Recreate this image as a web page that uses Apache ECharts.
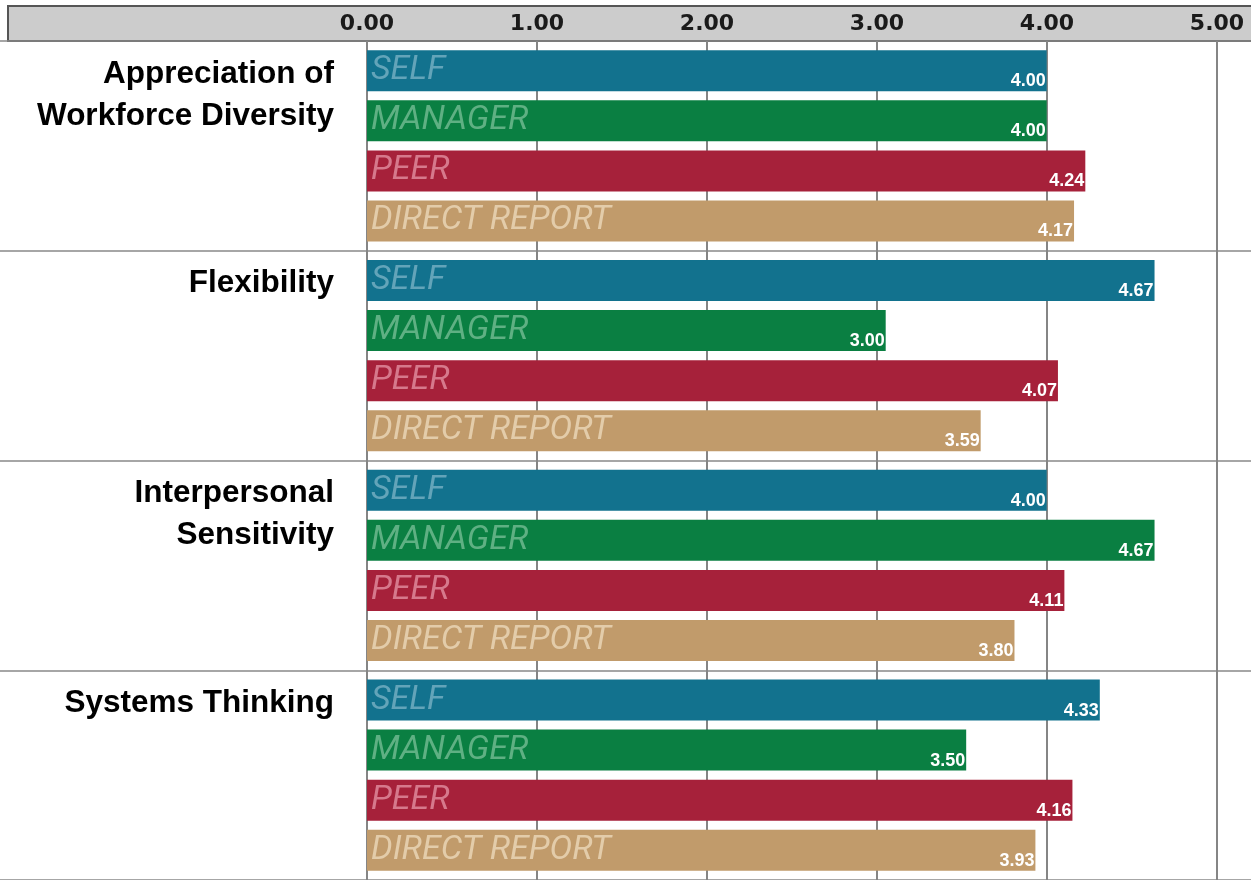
<!DOCTYPE html>
<html>
<head>
<meta charset="utf-8">
<script src="https://cdn.jsdelivr.net/npm/echarts@6/dist/echarts.min.js"></script>
<style>
html,body{margin:0;padding:0;background:#fff;}
#chart{width:1251px;height:880px;}
</style>
</head>
<body>
<div id="chart"></div>
<script>
// ---- data ----
var categories = ['Appreciation of\nWorkforce Diversity', 'Flexibility', 'Interpersonal\nSensitivity', 'Systems Thinking'];
var raters = ['SELF', 'MANAGER', 'PEER', 'DIRECT REPORT'];
var selfScores = [4.00, 4.67, 4.00, 4.33];
var managerScores = [4.00, 3.00, 4.67, 3.50];
var peerScores = [4.24, 4.07, 4.11, 4.16];
var directReportScores = [4.17, 3.59, 3.80, 3.93];
var tickValues = [0, 1, 2, 3, 4, 5];
// bar scale of the original chart (bars are drawn on a slightly offset scale)
var barScaleMin = -0.222;
var barScaleMax = 5.058;

// ---- styles ----
var barColors = ['#12728e', '#0a7f42', '#a6213a', '#c19b6b'];
var nameColors = ['#63a4b9', '#5fb083', '#d6798c', '#e3ccaa'];
var seriesData = [selfScores, managerScores, peerScores, directReportScores];

var chart = echarts.init(document.getElementById('chart'), null, {renderer: 'canvas'});

var series = [];
// colored bars with rater names
raters.forEach(function (r, i) {
  series.push({
    type: 'bar', name: r, xAxisIndex: 2, yAxisIndex: 1,
    data: seriesData[i], barWidth: 41, barGap: '22%',
    itemStyle: {color: barColors[i]}, z: 2, silent: true,
    label: {
      show: true, position: 'insideLeft', distance: 4,
      formatter: r,
      color: nameColors[i], fontStyle: 'italic', fontWeight: 'normal',
      fontFamily: '"Liberation Sans Narrow", "Roboto", sans-serif', fontSize: 34
    }
  });
});
// transparent overlay bars carrying value labels
raters.forEach(function (r, i) {
  series.push({
    type: 'bar', name: r + ' value', xAxisIndex: 2, yAxisIndex: 0,
    data: seriesData[i], barWidth: 41, barGap: '22%',
    itemStyle: {color: 'rgba(0,0,0,0)'}, z: 3, silent: true,
    label: {
      show: true, position: 'insideBottomRight', distance: 1,
      formatter: function (p) { return p.value.toFixed(2); },
      color: '#ffffff', fontWeight: 'bold',
      fontFamily: '"Liberation Sans", Arial, sans-serif', fontSize: 18
    }
  });
});

var option = {
  animation: false,
  backgroundColor: '#ffffff',
  graphic: [{
    type: 'rect', z: -1, silent: true,
    shape: {x: 8, y: 6, width: 1262, height: 35},
    style: {fill: '#cccccc', stroke: '#555555', lineWidth: 2}
  }],
  grid: [
    {left: 367, right: 34, top: 41, bottom: -6, containLabel: false},
    {left: 0, right: 0, top: 41, bottom: -6, containLabel: false}
  ],
  xAxis: [{
    type: 'value', gridIndex: 0, position: 'top', min: tickValues[0], max: tickValues[tickValues.length - 1], interval: 1,
    axisLine: {show: false}, axisTick: {show: false},
    splitLine: {show: true, lineStyle: {color: '#858585', width: 2}},
    axisLabel: {
      margin: 6, color: '#1a1a1a', fontWeight: 'bold', fontSize: 22,
      fontFamily: '"DejaVu Sans", sans-serif',
      formatter: function (v) { return v.toFixed(2); }
    }
  }, {
    type: 'value', gridIndex: 1, min: 0, max: 1, show: false
  }, {
    type: 'value', gridIndex: 0, position: 'bottom', min: barScaleMin, max: barScaleMax,
    startValue: barScaleMin, show: false, splitLine: {show: false}
  }],
  yAxis: [{
    type: 'category', gridIndex: 0, data: categories, inverse: true, position: 'left',
    axisLine: {show: false}, axisTick: {show: false}, splitLine: {show: false},
    axisLabel: {
      margin: 33, color: '#000000', fontWeight: 'bold', fontSize: 31.5, lineHeight: 42,
      fontFamily: '"Liberation Sans", Arial, sans-serif', align: 'right',
      verticalAlign: 'bottom', padding: [0, 0, 9, 0],
      formatter: function (v) { return v.indexOf('\n') < 0 ? v + '\n ' : v; }
    }
  }, {
    type: 'category', gridIndex: 0, data: categories, inverse: true, position: 'right', show: false
  }, {
    type: 'category', gridIndex: 1, data: categories, inverse: true,
    axisLine: {show: false}, axisTick: {show: false}, axisLabel: {show: false},
    splitLine: {show: true, lineStyle: {color: '#888888', width: 1.5}}
  }],
  series: series
};
chart.setOption(option);
</script>
</body>
</html>
